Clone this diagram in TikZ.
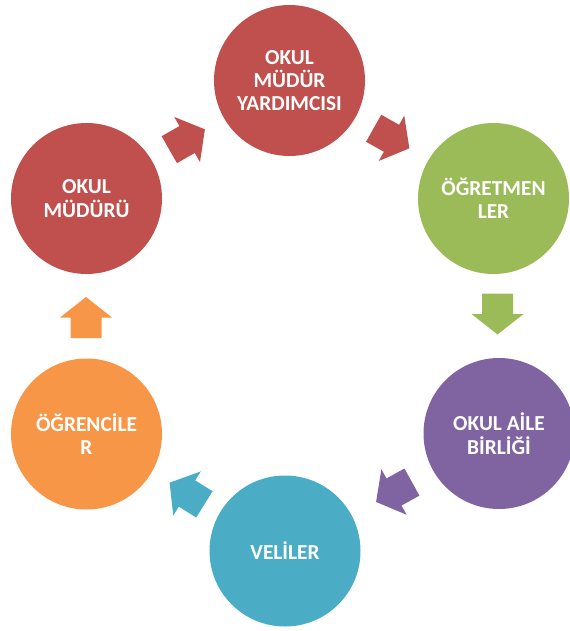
\documentclass[tikz,border=0pt]{standalone}
\usepackage{fontspec}
\setmainfont{Carlito}
\definecolor{cRed}{HTML}{C0504D}
\definecolor{cGreen}{HTML}{9BBB59}
\definecolor{cPurple}{HTML}{8064A2}
\definecolor{cBlue}{HTML}{4BACC6}
\definecolor{cOrange}{HTML}{F79646}
\tikzset{
  circ/.style={circle, minimum size=113.25pt, inner sep=0pt, text=white,
    font=\fontsize{16}{17.5}\selectfont\bfseries, align=center},
  pics/blockarrow/.style={code={
    \fill[#1] (-20.5,-15.5) -- (0,-15.5) -- (0,-26) -- (20.5,0) -- (0,26) -- (0,15.5) -- (-20.5,15.5) -- cycle;
  }}
}
\begin{document}
\begin{tikzpicture}[x=0.75pt,y=0.75pt]
\useasboundingbox (0,0) rectangle (569,-631);
\node[circ, fill=cRed] (yard) at (289.5,-80.5) {OKUL\\MÜDÜR\\YARDIMCISI};
\node[circ, fill=cGreen] (ogrt) at (493.5,-198.5) {ÖĞRETMEN\\LER};
\node[circ, fill=cPurple] (aile) at (499,-433.5) {OKUL AİLE\\BİRLİĞİ};
\node[circ, fill=cBlue] (veli) at (285,-551) {VELİLER};
\node[circ, fill=cOrange] (ogrn) at (86.5,-434) {ÖĞRENCİLE\\R};
\node[circ, fill=cRed] (mudur) at (86.5,-198.5) {OKUL\\MÜDÜRÜ};
\pic[rotate=29.7] (a1) at (187.1,-139.5) {blockarrow=cRed};
\pic[rotate=-29.4] (a2) at (391.5,-138.3) {blockarrow=cRed};
\pic[rotate=-90] (a3) at (497.5,-314) {blockarrow=cGreen};
\pic[rotate=209] (a4) at (394,-492) {blockarrow=cPurple};
\pic[rotate=148] (a5) at (187,-493.5) {blockarrow=cBlue};
\pic[rotate=90] (a6) at (86,-317.5) {blockarrow=cOrange};
\end{tikzpicture}
\end{document}
